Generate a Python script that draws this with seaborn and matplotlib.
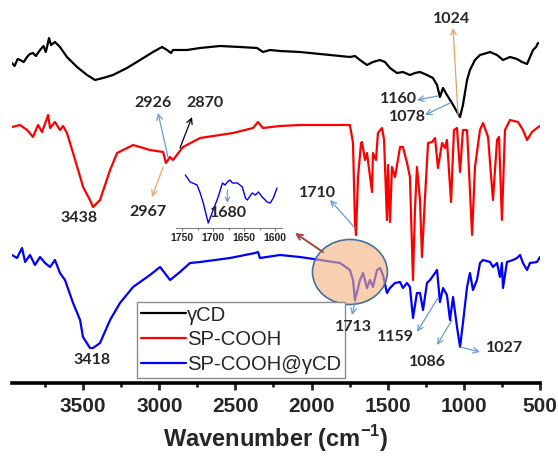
import matplotlib
matplotlib.use("Agg")
import matplotlib.pyplot as plt
from matplotlib.patches import Ellipse
from matplotlib.ticker import MultipleLocator
import seaborn as sns
import pandas as pd

# ---------------- data (wavenumber cm-1, transmittance a.u., offset) ----------------
gcd_wn = [3967, 3950, 3930, 3914, 3890, 3868, 3850, 3829, 3810, 3783, 3760, 3745, 3737, 3724, 3711,
          3685, 3652, 3606, 3540, 3474, 3422, 3369, 3304, 3212, 3126, 3041, 2982, 2949, 2923,
          2910, 2818, 2732, 2601, 2470, 2358, 2319, 2273, 2207, 2076, 1879, 1748, 1715, 1682,
          1636, 1597, 1551, 1518, 1485, 1439, 1400, 1354, 1321, 1288, 1242, 1203, 1176, 1157,
          1137, 1111, 1078, 1052, 1025, 1006, 979, 960, 927, 894, 848, 828, 782, 743, 697, 651,
          618, 585, 546, 526, 513]
gcd_t = [320, 317, 324, 323, 321, 326, 329, 330, 327, 333, 337, 331, 336, 345, 338,
         341, 336, 326, 316, 308, 303, 305, 308, 315, 323, 331, 336, 333, 330,
         333, 333, 335, 337, 336, 335, 331, 333, 332, 331, 328, 326, 327, 323,
         318, 321, 323, 321, 315, 310, 311, 308, 310, 311, 308, 305, 298, 286,
         295, 288, 280, 273, 266, 278, 303, 313, 323, 328, 330, 331, 328, 323, 326, 324,
         321, 319, 333, 336, 340]

sp_wn = [3967, 3914, 3868, 3829, 3796, 3770, 3730, 3717, 3685, 3652, 3632, 3606, 3566, 3500,
         3455, 3435, 3389, 3323, 3277, 3172, 3061, 2975, 2956, 2930, 2910, 2844, 2732, 2516,
         2384, 2352, 2319, 2207, 2076, 1879, 1748, 1728, 1715, 1708, 1695, 1675, 1669, 1649,
         1636, 1603, 1597, 1577, 1564, 1537, 1524, 1505, 1498, 1485, 1472, 1452, 1419, 1400,
         1373, 1354, 1334, 1321, 1308, 1288, 1275, 1255, 1235, 1209, 1189, 1170, 1143, 1124,
         1111, 1084, 1065, 1045, 1025, 1006, 979, 946, 927, 894, 874, 841, 809, 782, 769, 750,
         730, 697, 644, 612, 585, 553, 520, 500]
sp_t = [256, 258, 253, 246, 258, 251, 268, 255, 261, 253, 257, 250, 230, 196,
        183, 176, 183, 213, 230, 238, 233, 231, 220, 226, 223, 236, 245, 250,
        255, 261, 255, 257, 258, 258, 258, 240, 160, 148, 206, 240, 241, 223,
        230, 191, 230, 223, 250, 255, 243, 163, 218, 161, 216, 206, 236, 236,
        220, 206, 103, 173, 216, 183, 126, 186, 240, 241, 245, 215, 240, 235,
        243, 181, 253, 255, 211, 253, 253, 148, 216, 253, 260, 246, 183, 243, 246, 163,
        253, 263, 261, 253, 243, 251, 255, 257]

spg_wn = [3967, 3934, 3901, 3881, 3849, 3816, 3783, 3750, 3717, 3685, 3652, 3619, 3566, 3520,
          3501, 3455, 3435, 3389, 3323, 3258, 3172, 3061, 2995, 2929, 2864, 2798, 2732, 2535,
          2371, 2352, 2339, 2207, 2076, 1944, 1813, 1748, 1728, 1715, 1682, 1662, 1636, 1616,
          1597, 1570, 1551, 1531, 1505, 1485, 1452, 1419, 1400, 1373, 1354, 1334, 1308, 1288,
          1268, 1242, 1222, 1189, 1176, 1170, 1157, 1137, 1111, 1091, 1071, 1045, 1025, 1006,
          979, 960, 940, 914, 894, 874, 828, 809, 782, 763, 750, 743, 717, 677, 651, 631, 612,
          585, 566, 520, 500]
spg_t = [128, 125, 135, 121, 128, 118, 126, 120, 116, 123, 110, 103, 80, 63,
         46, 35, 35, 40, 63, 80, 96, 108, 116, 103, 111, 120, 121, 125,
         130, 131, 125, 128, 126, 123, 120, 113, 103, 83, 103, 110, 95, 103,
         96, 113, 115, 108, 90, 95, 100, 101, 95, 100, 96, 65, 90, 90,
         73, 100, 103, 110, 113, 103, 81, 95, 88, 63, 86, 56, 36, 60,
         96, 110, 93, 103, 120, 123, 121, 116, 120, 106, 120, 95, 121, 123, 125, 128, 120,
         113, 120, 121, 126]

inset_wn = [1745, 1737, 1726, 1721, 1716, 1708, 1700, 1692, 1685, 1681, 1677, 1673, 1669,
            1661, 1653, 1648, 1645, 1637, 1632, 1627, 1621, 1613, 1608, 1603, 1597]
inset_t = [53, 46, 43, 35, 25, 5, 18, 31, 45, 43, 46, 48, 45,
           45, 41, 30, 28, 35, 33, 36, 31, 26, 25, 30, 40]

series_names = ["\u03b3CD", "SP-COOH", "SP-COOH@\u03b3CD"]
series_colors = ["black", "#ff0000", "#0000ff"]
main_ticks = [3500, 3000, 2500, 2000, 1500, 1000, 500]
inset_ticks = [1750, 1700, 1650, 1600]

# ---------------- style ----------------
sns.set_style("white")
plt.rcParams["font.family"] = ["Liberation Sans", "DejaVu Sans"]
plt.rcParams["mathtext.fontset"] = "custom"
plt.rcParams["mathtext.rm"] = "Liberation Sans"
plt.rcParams["mathtext.bf"] = "Liberation Sans:bold"

W, H = 558, 457
fig = plt.figure(figsize=(W / 100, H / 100), dpi=100)
ax = fig.add_axes([12 / W, (H - 383) / H, (540 - 12) / W, 383 / H])

frames = [
    pd.DataFrame({"wn": gcd_wn, "T": gcd_t}),
    pd.DataFrame({"wn": sp_wn, "T": sp_t}),
    pd.DataFrame({"wn": spg_wn, "T": spg_t}),
]
for df, name, col in zip(frames, series_names, series_colors):
    sns.lineplot(data=df, x="wn", y="T", ax=ax, color=col, lw=1.6, label=name,
                 estimator=None, sort=False, zorder=2)

ax.set_xlim(3967, 500)
ax.set_ylim(0, 383)
for s in ["top", "right", "left"]:
    ax.spines[s].set_visible(False)
ax.spines["bottom"].set_linewidth(2.6)
ax.spines["bottom"].set_color("black")
ax.set_yticks([])
ax.set_ylabel("")
ax.set_xticks(main_ticks)
ax.xaxis.set_minor_locator(MultipleLocator(250))
ax.tick_params(axis="x", which="major", direction="out", length=5, width=2, pad=5,
               labelsize=15, bottom=True)
ax.tick_params(axis="x", which="minor", direction="out", length=3, width=2, bottom=True)
for lab in ax.get_xticklabels():
    lab.set_fontweight("bold")
ax.set_xlabel(r"Wavenumber (cm$^{\mathbf{-1}}$)", fontsize=17, fontweight="bold", labelpad=5)

# legend
leg = ax.legend(loc="lower left", bbox_to_anchor=(137 / W, (H - 378) / H),
                bbox_transform=fig.transFigure, borderaxespad=0, frameon=True,
                fancybox=False, fontsize=14.6, handlelength=2.2, handletextpad=0.05,
                labelspacing=0.28, borderpad=0.2, framealpha=1)
leg.get_frame().set_edgecolor("#8c8c8c")
leg.get_frame().set_linewidth(1.0)
for l in leg.get_lines():
    l.set_linewidth(1.6)

# ellipse highlight
ell = Ellipse((1748, 111), width=492, height=65, facecolor=(0.96, 0.70, 0.50, 0.62),
              edgecolor="#41719c", lw=1.2, zorder=3)
ax.add_patch(ell)

# annotations
lab_font = dict(fontsize=11.5, fontweight="bold", family=["Lato", "DejaVu Sans"],
                ha="center", va="center", zorder=6)
blue_a = "#6a9bd1"
orange_a = "#f0a060"

def arrow(xy_from, xy_to, color, lw=0.9):
    ax.annotate("", xy=xy_to, xytext=xy_from,
                arrowprops=dict(arrowstyle="->", color=color, lw=lw, shrinkA=0, shrinkB=0,
                                mutation_scale=10), zorder=6)

ax.text(1078, 364, "1024", **lab_font)
arrow((1038, 268), (1071, 355), orange_a)
ax.text(1432, 284, "1160", **lab_font)
arrow((1170, 287), (1308, 283), blue_a)
ax.text(1373, 266, "1078", **lab_font)
arrow((1091, 280), (1255, 268), blue_a)

ax.text(3041, 280, "2926", **lab_font)
arrow((2943, 226), (3008, 270), blue_a)
ax.text(2700, 280, "2870", **lab_font)
arrow((2864, 235), (2785, 266), "black")
ax.text(3074, 171, "2967", **lab_font)
arrow((2975, 216), (3048, 186), orange_a)
ax.text(3527, 165, "3438", **lab_font)
ax.text(1964, 190, "1710", **lab_font)
arrow((1715, 155), (1879, 183), blue_a)

ax.text(1728, 56, "1713", **lab_font)
arrow((1715, 81), (1734, 68), blue_a)
ax.text(1452, 46, "1159", **lab_font)
arrow((1170, 85), (1308, 51), blue_a)
ax.text(1242, 21, "1086", **lab_font)
arrow((1078, 63), (1176, 38), blue_a)
ax.text(730, 35, "1027", **lab_font)
arrow((1025, 36), (894, 31), blue_a)
ax.text(3442, 23, "3418", **lab_font)

# brown arrow from ellipse to inset
arrow((1925, 131), (2109, 150), "#a8433e", lw=1.4)

# inset
iax = fig.add_axes([176 / W, (H - 228) / H, (282 - 176) / W, 60 / H])
iax.patch.set_alpha(0)
sns.lineplot(x=inset_wn, y=inset_t, ax=iax, color="#0000ff", lw=1.0, estimator=None, sort=False)
iax.set_xlim(1760, 1589)
iax.set_ylim(0, 60)
for s in ["top", "right", "left"]:
    iax.spines[s].set_visible(False)
iax.spines["bottom"].set_color("#7f7f7f")
iax.spines["bottom"].set_linewidth(0.8)
iax.set_yticks([])
iax.set_xticks(inset_ticks)
iax.xaxis.set_minor_locator(MultipleLocator(25))
iax.tick_params(axis="x", which="both", direction="out", length=2, width=0.8,
                color="#7f7f7f", labelsize=7.5, pad=1.5, bottom=True)
iax.tick_params(axis="x", which="minor", length=1.5)
for lab in iax.get_xticklabels():
    lab.set_fontweight("bold")
iax.set_xlabel("")
iax.set_ylabel("")
iax.text(1676, 15, "1680", fontsize=11.5, fontweight="bold", family=["Lato", "DejaVu Sans"],
         ha="center", va="center")
iax.annotate("", xy=(1677, 25), xytext=(1677, 38),
             arrowprops=dict(arrowstyle="->", color=blue_a, lw=0.9, shrinkA=0, shrinkB=0,
                             mutation_scale=8))

fig.savefig("out.png", dpi=100)
